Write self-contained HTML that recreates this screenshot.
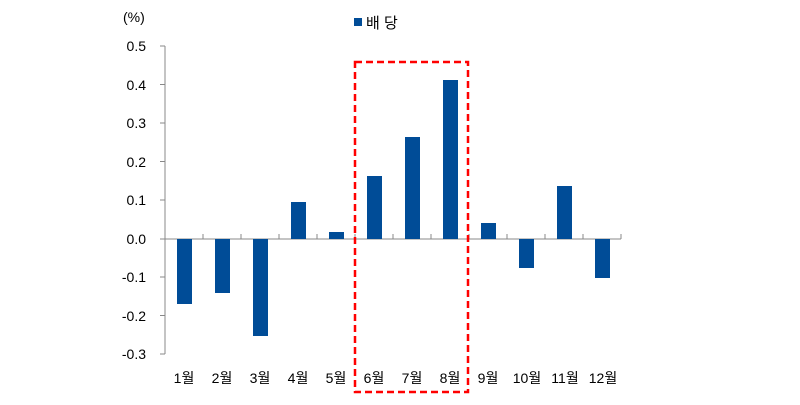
<!DOCTYPE html>
<html><head><meta charset="utf-8"><style>body{margin:0;background:#fff}</style></head><body>
<svg width="800" height="400" xmlns="http://www.w3.org/2000/svg" font-family="Liberation Sans, Noto Sans CJK KR, sans-serif" font-size="14" fill="#000">
<rect width="800" height="400" fill="#fff"/>
<text x="123" y="22" font-size="14">(%)</text>
<rect x="354" y="18" width="8" height="8" fill="#004c97"/>
<text x="366" y="28" font-size="15">배 당</text>
<g stroke="#888" stroke-width="1">
<line x1="165" y1="46" x2="165" y2="354"/>
<line x1="165" y1="239" x2="621" y2="239"/>
<line x1="160" y1="46" x2="165" y2="46"/><line x1="160" y1="84.5" x2="165" y2="84.5"/><line x1="160" y1="123" x2="165" y2="123"/><line x1="160" y1="161.5" x2="165" y2="161.5"/><line x1="160" y1="200" x2="165" y2="200"/><line x1="160" y1="239" x2="165" y2="239"/><line x1="160" y1="277" x2="165" y2="277"/><line x1="160" y1="315.5" x2="165" y2="315.5"/><line x1="160" y1="354" x2="165" y2="354"/>
<line x1="203" y1="234" x2="203" y2="239"/><line x1="241" y1="234" x2="241" y2="239"/><line x1="279" y1="234" x2="279" y2="239"/><line x1="317" y1="234" x2="317" y2="239"/><line x1="355" y1="234" x2="355" y2="239"/><line x1="393" y1="234" x2="393" y2="239"/><line x1="431" y1="234" x2="431" y2="239"/><line x1="469" y1="234" x2="469" y2="239"/><line x1="507" y1="234" x2="507" y2="239"/><line x1="545" y1="234" x2="545" y2="239"/><line x1="583" y1="234" x2="583" y2="239"/><line x1="621" y1="234" x2="621" y2="239"/>
</g>
<g text-anchor="end" font-size="14">
<text x="146" y="51">0.5</text><text x="146" y="90">0.4</text><text x="146" y="128">0.3</text><text x="146" y="167">0.2</text><text x="146" y="205">0.1</text><text x="146" y="244">0.0</text><text x="146" y="282">-0.1</text><text x="146" y="321">-0.2</text><text x="146" y="359">-0.3</text>
</g>
<g fill="#004c97">
<rect x="177" y="239" width="15" height="65"/>
<rect x="215" y="239" width="15" height="54"/>
<rect x="253" y="239" width="15" height="97"/>
<rect x="291" y="202" width="15" height="37"/>
<rect x="329" y="232" width="15" height="7"/>
<rect x="367" y="176" width="15" height="63"/>
<rect x="405" y="137" width="15" height="102"/>
<rect x="443" y="80" width="15" height="159"/>
<rect x="481" y="223" width="15" height="16"/>
<rect x="519" y="239" width="15" height="29"/>
<rect x="557" y="186" width="15" height="53"/>
<rect x="595" y="239" width="15" height="39"/>
</g>
<g text-anchor="middle" font-size="14">
<text x="184" y="383">1월</text><text x="222" y="383">2월</text><text x="260" y="383">3월</text><text x="298" y="383">4월</text><text x="336" y="383">5월</text><text x="374" y="383">6월</text><text x="412" y="383">7월</text><text x="450" y="383">8월</text><text x="488" y="383">9월</text><text x="527" y="383">10월</text><text x="565" y="383">11월</text><text x="603" y="383">12월</text>
</g>
<rect x="355" y="62" width="113" height="330" fill="none" stroke="#f00" stroke-width="2.5" stroke-dasharray="7,4"/>
</svg>
</body></html>
